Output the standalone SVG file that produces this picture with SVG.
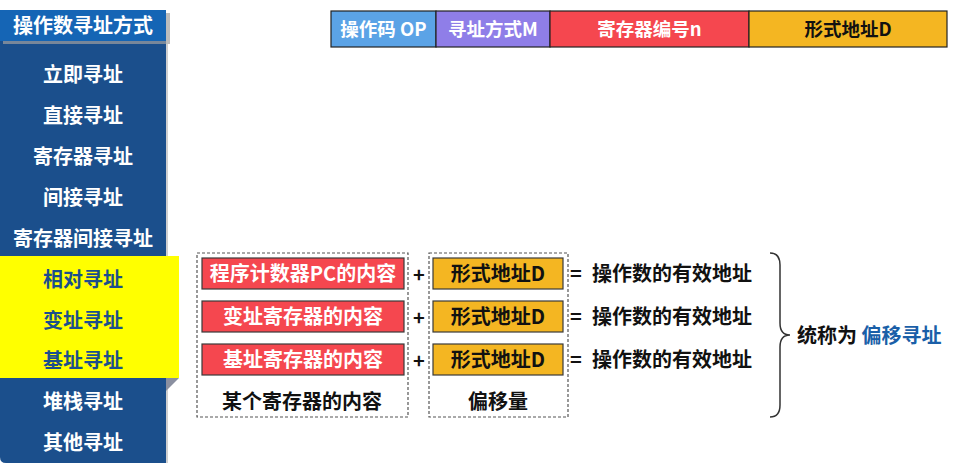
<svg xmlns="http://www.w3.org/2000/svg" width="964" height="463" viewBox="0 0 964 463">
<defs>
<style>
text{font-family:"Noto Sans CJK SC","Noto Sans",sans-serif;font-weight:bold;dominant-baseline:central;text-anchor:middle}
.menu{font-size:20px;fill:#ffffff}
.hl{font-size:20px;fill:#1b4f8c}
.fmt{font-size:18.5px}
.lbl{font-size:20px;fill:#ffffff}
.dl{font-size:20px;fill:#111111}
.red{fill:#f5474f;stroke:#3a3a3a;stroke-width:1.2}
.org{fill:#f4b622;stroke:#3a3a3a;stroke-width:1.2}
.dash{fill:none;stroke:#555;stroke-width:1.2;stroke-dasharray:3 2}
</style>
</defs>
<rect width="964" height="463" fill="#ffffff"/>

<g id="menu">
<rect x="166" y="44" width="2" height="419" fill="#d0d0d0"/>
<path d="M0,41 H166 V463 H6 Q0,463 0,457 Z" fill="#1b4f8c"/>
<rect x="3" y="13" width="167" height="31" fill="#a0a0a0" opacity="0.7"/>
<rect x="0" y="10" width="166" height="31" fill="#1565b5"/>
<text class="menu" x="83" y="24.5">操作数寻址方式</text>
<text class="menu" x="83" y="73">立即寻址</text>
<text class="menu" x="83" y="114">直接寻址</text>
<text class="menu" x="83" y="155">寄存器寻址</text>
<text class="menu" x="83" y="196">间接寻址</text>
<text class="menu" x="83" y="237">寄存器间接寻址</text>
<polygon points="166,378 179,378 166,391" fill="#8a8fa0"/>
<rect x="0" y="256" width="179" height="122" fill="#ffff00"/>
<text class="hl" x="83" y="278">相对寻址</text>
<text class="hl" x="83" y="319">变址寻址</text>
<text class="hl" x="83" y="359">基址寻址</text>
<text class="menu" x="83" y="400">堆栈寻址</text>
<text class="menu" x="83" y="441">其他寻址</text>
</g>

<g id="format">
<rect x="331" y="11" width="105" height="36" fill="#5ba3e6" stroke="#222" stroke-width="1.2"/>
<rect x="436" y="11" width="114" height="36" fill="#8f7ee8" stroke="#222" stroke-width="1.2"/>
<rect x="550" y="11" width="199" height="36" fill="#f5474f" stroke="#222" stroke-width="1.2"/>
<rect x="749" y="11" width="198" height="36" fill="#f4b622" stroke="#222" stroke-width="1.2"/>
<text class="fmt" x="383.5" y="28" fill="#ffffff">操作码 OP</text>
<text class="fmt" x="493" y="28" fill="#ffffff">寻址方式M</text>
<text class="fmt" x="649.5" y="28" fill="#ffffff">寄存器编号n</text>
<text class="fmt" x="848" y="28" fill="#111111">形式地址D</text>
</g>

<g id="register-group">
<rect class="dash" x="197" y="253" width="211" height="164"/>
<rect class="red" x="202" y="258" width="202" height="31"/>
<text class="lbl" x="303" y="272.5">程序计数器PC的内容</text>
<rect class="red" x="202" y="301" width="202" height="31"/>
<text class="lbl" x="303" y="315.5">变址寄存器的内容</text>
<rect class="red" x="202" y="344" width="202" height="31"/>
<text class="lbl" x="303" y="358.5">基址寄存器的内容</text>
<text class="dl" x="302" y="400">某个寄存器的内容</text>
</g>

<g id="offset-group">
<rect class="dash" x="429" y="253" width="139" height="164"/>
<rect class="org" x="433" y="258" width="130" height="31"/>
<text class="dl" x="498" y="272.5">形式地址D</text>
<rect class="org" x="433" y="301" width="130" height="31"/>
<text class="dl" x="498" y="315.5">形式地址D</text>
<rect class="org" x="433" y="344" width="130" height="31"/>
<text class="dl" x="498" y="358.5">形式地址D</text>
<text class="dl" x="498" y="400">偏移量</text>
</g>

<g id="operators">
<text class="dl" x="419" y="273">+</text>
<text class="dl" x="419" y="316">+</text>
<text class="dl" x="419" y="359">+</text>
<text class="dl" x="576" y="272">=</text>
<text class="dl" x="576" y="315">=</text>
<text class="dl" x="576" y="358">=</text>
<text class="dl" x="672" y="272">操作数的有效地址</text>
<text class="dl" x="672" y="315">操作数的有效地址</text>
<text class="dl" x="672" y="358">操作数的有效地址</text>
</g>

<g id="connectors">
<path d="M770,253 Q780,253 780,265 L780,323 Q780,335 790,335 Q780,335 780,347 L780,405 Q780,417 770,417" fill="none" stroke="#333" stroke-width="1.5"/>
</g>

<g id="summary">
<text class="dl" x="797" y="334" style="text-anchor:start">统称为 <tspan fill="#1a5fa8">偏移寻址</tspan></text>
</g>
</svg>
